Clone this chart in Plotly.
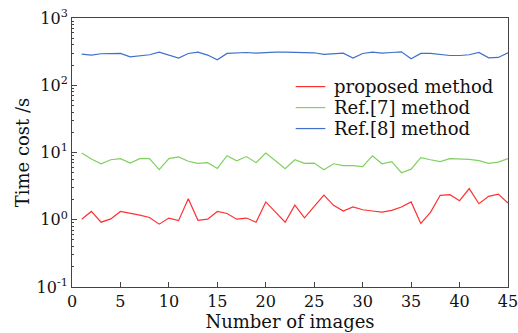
import plotly.graph_objects as go

x_images = list(range(1, 46))
proposed = [1.02, 1.33, 0.92, 1.03, 1.33, 1.26, 1.17, 1.08, 0.86, 1.06,
            0.97, 2.06, 0.98, 1.02, 1.33, 1.24, 1.02, 1.06, 0.92, 1.84,
            1.29, 0.92, 1.65, 1.07, 1.58, 2.33, 1.64, 1.35, 1.55, 1.41,
            1.35, 1.30, 1.38, 1.55, 1.84, 0.88, 1.29, 2.31, 2.36, 1.92,
            2.90, 1.73, 2.23, 2.41, 1.77]
ref7 = [9.8, 8.0, 6.8, 7.8, 8.1, 6.97, 8.1, 8.1, 5.55, 8.1,
        8.6, 7.4, 6.9, 7.05, 5.8, 8.97, 7.5, 8.7, 7.05, 9.8,
        7.55, 5.75, 7.8, 6.9, 6.97, 5.55, 6.8, 6.4, 6.4, 6.15,
        8.9, 6.8, 7.3, 5.0, 5.66, 8.4, 7.8, 7.3, 8.1, 8.1,
        7.9, 7.55, 6.9, 7.2, 8.1]
ref8 = [290, 281, 294, 297, 297, 265, 274, 284, 311, 277,
        253, 297, 311, 281, 239, 297, 300, 307, 300, 307,
        311, 311, 311, 311, 304, 287, 297, 300, 253, 297,
        311, 300, 307, 314, 247, 297, 297, 284, 277, 277,
        284, 307, 256, 259, 304]

series_names = ["proposed method", "Ref.[7] method", "Ref.[8] method"]
colors = ["#ff3030", "#80d060", "#4070cc"]

y_tickvals = [0.1, 1, 10, 100, 1000]
y_ticktext = ["10<sup>-1</sup>", "10<sup>0</sup>", "10<sup>1</sup>", "10<sup>2</sup>", "10<sup>3</sup>"]
y_minor_vals = [m * d for d in [0.1, 1, 10, 100] for m in range(2, 10)]
x_tickvals = [0, 5, 10, 15, 20, 25, 30, 35, 40, 45]

font_family = "DejaVu Serif"

fig = go.Figure()
for name, ys, c in zip(series_names, [proposed, ref7, ref8], colors):
    fig.add_trace(go.Scatter(x=x_images, y=ys, mode="lines", name=name,
                             line=dict(color=c, width=1.2), showlegend=False))

# legend drawn in paper coordinates
leg_x0, leg_x1, leg_tx = 0.513, 0.581, 0.597
leg_y = [0.745, 0.667, 0.589]
for name, c, yy in zip(series_names, colors, leg_y):
    fig.add_shape(type="line", xref="paper", yref="paper",
                  x0=leg_x0, x1=leg_x1, y0=yy, y1=yy,
                  line=dict(color=c, width=1.2))
    fig.add_annotation(xref="paper", yref="paper", x=leg_tx, y=yy,
                       text=name, showarrow=False, xanchor="left", yanchor="middle",
                       font=dict(size=18, color="#111"))

fig.update_layout(
    width=518, height=333,
    margin=dict(l=72, r=10, t=18, b=46),
    paper_bgcolor="white", plot_bgcolor="white",
    font=dict(family=font_family, size=16, color="#111"),
    showlegend=False,
)
fig.update_xaxes(range=[0, 45], tickvals=x_tickvals, ticks="inside", ticklen=5,
                 showline=True, linecolor="#444", linewidth=1, mirror=True,
                 showgrid=False, zeroline=False, automargin=False,
                 ticklabeloverflow="allow",
                 title=dict(text="Number of images", standoff=0, font=dict(size=18)),
                 tickfont=dict(size=16))
fig.update_yaxes(type="log", range=[-1, 3], tickmode="array",
                 tickvals=y_tickvals, ticktext=y_ticktext,
                 ticks="inside", ticklen=5, showline=True, linecolor="#444", linewidth=1,
                 mirror=True, showgrid=False, zeroline=False, automargin=False,
                 minor=dict(tickmode="array", tickvals=y_minor_vals,
                            ticks="inside", ticklen=2, showgrid=False),
                 title=dict(text="Time cost /s", standoff=2, font=dict(size=18)),
                 tickfont=dict(size=16))

fig.write_html("out.html", config={"staticPlot": True},
               post_script="document.body.style.margin='0';")
